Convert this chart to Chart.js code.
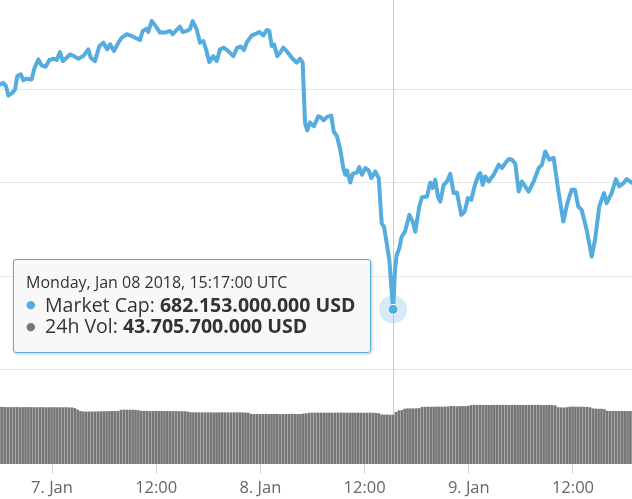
<!DOCTYPE html>
<html>
<head>
<meta charset="utf-8">
<script src="https://cdn.jsdelivr.net/npm/chart.js@4/dist/chart.umd.min.js"></script>
<style>
  html, body { margin: 0; padding: 0; background: #fff; }
  #wrap { position: relative; width: 632px; height: 499px; overflow: hidden; }
  canvas { display: block; }
  #tip { position: absolute; box-sizing: border-box; width: 358px; height: 94px;
         background: rgba(247,247,247,0.88); border: 1px solid #55acdf; border-radius: 3px;
         box-shadow: 1px 1px 3px rgba(0,0,0,0.22); font-family: "Open Sans", sans-serif; color: #333; }
  #tip span { position: absolute; white-space: nowrap; line-height: 1; }
  .hdr { font-size: 16px; left: 12px; top: 14px; }
  .row { font-size: 19.5px; left: 31px; }
  .dot { font-family: "DejaVu Sans", sans-serif; font-size: 11px; left: 12px; }
</style>
</head>
<body>
<div id="wrap">
  <canvas id="c" width="632" height="499"></canvas>
  <div id="tip"></div>
</div>
<script>
// ---- data (hours from 2018-01-07 00:00 UTC; market cap in billion USD) ----
const capTime = [
  -5.99,-5.61,-5.30,-5.03,-4.64,-4.26,-4.00,-3.60,-3.31,-2.91,-2.34,-2.07,-1.58,-1.19,-0.73,-0.31,
  0.23,0.54,0.92,1.23,1.69,2.07,2.53,3.03,3.60,4.18,4.46,4.95,5.45,5.91,6.37,6.68,7.14,7.64,8.03,8.60,
  9.18,9.76,10.13,10.45,10.91,11.09,11.48,11.98,12.44,13.01,13.59,13.90,14.36,14.74,15.05,15.51,15.89,
  16.20,16.66,17.04,17.42,17.74,18.12,18.58,18.97,19.35,19.81,20.30,20.88,21.34,21.73,22.11,22.42,
  23.00,23.38,23.87,24.34,24.73,25.03,25.30,25.57,25.95,26.26,26.64,27.10,27.72,28.18,28.56,28.87,
  29.14,29.40,29.71,30.17,30.67,30.90,31.29,31.67,32.17,32.44,32.82,33.20,33.59,33.78,33.97,34.35,
  34.63,35.13,35.39,35.70,36.08,36.47,36.77,37.23,37.63,37.97,38.24,38.55,38.85,39.2833,39.50,39.70,
  40.00,40.27,40.65,41.15,41.54,41.84,42.30,42.61,43.19,43.57,43.84,44.14,44.45,44.72,45.11,45.49,
  45.87,46.26,46.64,47.14,47.53,47.91,48.29,48.68,49.14,49.33,49.60,49.90,50.29,50.87,51.45,51.82,
  52.21,52.60,52.98,53.36,53.75,54.13,54.51,54.90,55.48,56.05,56.43,56.81,57.27,57.78,58.27,58.89,
  59.35,59.85,60.23,60.61,61.00,61.58,62.16,62.54,63.03,63.57,63.88,64.46,64.95,65.33,65.80,66.19,66.80
];
const capValue = [
  802.7,803.6,801.8,796.8,797.9,800.0,807.2,808.1,805.0,805.8,805.4,810.8,816.1,812.9,812.2,815.8,
  816.5,815.8,820.1,815.2,817.0,818.8,817.9,816.5,817.9,821.5,817.0,815.2,823.3,825.1,821.5,824.2,820.6,825.1,827.8,829.6,
  828.7,827.3,826.5,831.4,832.6,830.8,836.7,833.7,830.5,830.5,831.4,829.6,831.9,833.7,830.8,831.4,832.3,
  836.7,832.3,825.1,826.0,821.5,814.7,817.9,815.2,821.5,822.4,820.6,817.9,822.4,823.0,821.1,825.1,
  829.0,829.6,830.8,829.0,831.9,831.4,823.3,824.2,817.9,819.7,822.4,820.1,816.5,814.4,816.5,814.4,
  782.1,778.1,782.4,780.3,785.6,785.3,783.5,785.3,786.0,777.6,774.9,767.7,757.0,754.3,756.6,750.2,
  754.8,755.5,758.4,754.3,757.9,756.6,752.5,756.1,752.5,728.3,726.5,717.6,708.6,682.153,703.2,711.3,
  714.9,721.1,723.8,732.8,729.2,723.8,737.3,742.3,742.6,750.2,747.2,751.6,742.6,739.9,748.9,750.7,
  754.8,744.5,744.8,732.8,734.6,741.8,740.9,748.4,754.3,755.2,748.9,753.4,750.7,754.3,759.7,757.9,
  760.6,762.7,762.4,760.2,745.3,750.7,748.0,745.3,750.7,757.9,759.7,766.8,762.4,763.3,747.2,729.2,
  739.1,746.3,746.3,737.3,735.5,724.7,710.4,719.4,737.3,744.5,739.1,744.5,752.0,748.0,749.8,752.0,750.0
];
// 24h volume, billion USD, one bar every 20 minutes starting 2018-01-06 17:57 UTC
const volStart = -6.05;
const volStepHours = 1 / 3;
const volume = [
  50.8,50.6,50.5,50.5,50.4,50.5,50.5,50.4,50.4,50.5,50.5,50.4,50.4,50.3,50.4,50.4,50.3,50.3,50.4,50.4,
  50.3,50.3,50.3,50.4,50.2,50.2,49.6,48.3,
  46.9,46.6,46.5,46.5,46.6,46.6,46.7,46.7,46.8,46.8,46.9,47.0,47.0,47.1,
  48.0,48.2,48.2,48.1,48.1,48.0,47.7,
  47.2,47.1,47.1,47.0,47.0,47.1,47.0,47.0,46.9,47.0,47.0,46.9,46.9,46.8,46.8,46.7,46.5,
  45.9,45.8,45.8,45.8,45.7,45.8,45.8,45.8,45.7,45.7,45.8,45.8,45.8,45.7,45.7,45.7,45.8,45.8,45.7,45.6,45.4,
  44.4,44.3,44.3,44.3,44.2,44.3,44.3,44.3,44.4,44.3,44.2,44.3,44.3,44.3,44.4,44.4,44.3,44.3,44.6,45.0,
  45.4,45.5,45.5,45.5,45.6,45.5,45.5,45.5,45.4,45.5,45.5,45.6,45.5,45.5,45.4,45.5,45.5,45.5,45.4,45.4,
  45.5,45.5,45.4,45.3,45.0,
  43.9,43.8,43.8,43.7,43.7057,
  46.2,47.5,47.8,
  49.0,49.3,49.3,49.3,49.4,49.6,
  50.6,50.8,50.8,50.7,50.8,50.9,50.8,50.8,50.9,51.0,
  51.5,51.3,51.2,51.3,51.4,51.3,51.6,
  52.3,52.4,52.4,52.5,52.4,52.4,52.3,52.4,52.4,52.5,52.4,52.4,52.4,52.3,52.4,52.4,52.5,52.4,52.4,52.3,
  52.4,52.4,52.4,52.5,52.4,52.3,52.4,52.4,52.3,52.0,
  50.4,50.2,50.1,50.3,
  50.8,50.9,50.8,50.8,50.8,50.7,50.6,50.3,
  49.3,49.1,49.0,49.0,48.6,
  47.2,47.0,47.0,47.0,46.9,47.0,47.0,46.9,47.0,47.0
];
const tickHours = [0, 12, 24, 36, 48, 60];
const tickLabels = ["7. Jan", "12:00", "8. Jan", "12:00", "9. Jan", "12:00"];
const capGrid = [650, 700, 750, 800];
const hoverTime = 39.2833;
const hoverHeader = "Monday, Jan 08 2018, 15:17:00 UTC";
const hoverCap = "682.153.000.000 USD";
const hoverVol = "43.705.700.000 USD";

// ---- view / style ----
const xMin = -5.99, xMax = 66.80;
const capMin = 599.3, capMax = 847.96;
const volMax = 413.9;
const lineColor = '#55acdf';
const volColor = '#767676';
const hoverIndex = capTime.indexOf(hoverTime);

const overlay = {
  id: 'overlay',
  beforeDatasetsDraw(chart) {
    const el = chart.getDatasetMeta(0).data[hoverIndex];
    const { ctx, chartArea } = chart;
    ctx.save();
    ctx.strokeStyle = '#cccccc';
    ctx.lineWidth = 1;
    const x = Math.round(el.x) + 0.5;
    ctx.beginPath(); ctx.moveTo(x, chartArea.top); ctx.lineTo(x, chartArea.bottom); ctx.stroke();
    ctx.fillStyle = 'rgba(85,172,223,0.25)';
    ctx.beginPath(); ctx.arc(el.x, el.y, 14, 0, Math.PI * 2); ctx.fill();
    ctx.restore();
  }
};

const chart = new Chart(document.getElementById('c'), {
  type: 'line',
  data: {
    datasets: [
      {
        type: 'line', label: 'Market Cap', yAxisID: 'y', order: 0,
        data: capTime.map((t, i) => ({ x: t, y: capValue[i] })),
        borderColor: lineColor, borderWidth: 4, tension: 0,
        borderJoinStyle: 'round', borderCapStyle: 'round',
        pointRadius: c => c.dataIndex === hoverIndex ? 5 : 0,
        pointBackgroundColor: lineColor, pointBorderColor: '#ffffff', pointBorderWidth: 1
      },
      {
        type: 'bar', label: '24h Vol', yAxisID: 'y2', order: 2,
        data: volume.map((v, i) => ({ x: volStart + i * volStepHours, y: v })),
        backgroundColor: volColor, barThickness: 2, borderWidth: 0
      }
    ]
  },
  options: {
    responsive: false, animation: false, events: [],
    layout: { padding: 0 },
    plugins: { legend: { display: false }, tooltip: { enabled: false } },
    scales: {
      x: {
        type: 'linear', min: xMin, max: xMax, offset: false,
        grid: { display: true, drawOnChartArea: false, drawTicks: true, tickLength: 10, color: '#ccd6eb', offset: false },
        border: { display: false },
        ticks: {
          color: '#666666', font: { family: 'Open Sans', size: 16.5 }, padding: 4,
          maxRotation: 0, autoSkip: false,
          callback: (v, i) => tickLabels[i]
        },
        afterBuildTicks: s => { s.ticks = tickHours.map(v => ({ value: v })); },
        afterFit: s => { s.height = 35; }
      },
      y: {
        type: 'linear', position: 'left', min: capMin, max: capMax,
        grid: { color: '#e6e6e6', drawTicks: false, lineWidth: 1 },
        border: { display: false },
        ticks: { display: false },
        afterBuildTicks: s => { s.ticks = capGrid.map(v => ({ value: v })); },
        afterFit: s => { s.width = 0; }
      },
      y2: { type: 'linear', position: 'right', min: 0, max: volMax, display: false }
    }
  },
  plugins: [overlay]
});

// ---- tooltip (HTML, anchored to the hovered point) ----
const el = chart.getDatasetMeta(0).data[hoverIndex];
const tip = document.getElementById('tip');
tip.style.left = (el.x - 380) + 'px';
tip.style.top = (el.y - 50) + 'px';
tip.innerHTML =
  '<span class="hdr">' + hoverHeader + '</span>' +
  '<span class="dot" style="color:' + lineColor + ';top:39px">●</span>' +
  '<span class="row" style="top:34.5px">Market Cap: <b>' + hoverCap + '</b></span>' +
  '<span class="dot" style="color:' + volColor + ';top:61px">●</span>' +
  '<span class="row" style="top:56px">24h Vol: <b>' + hoverVol + '</b></span>';
</script>
</body>
</html>
